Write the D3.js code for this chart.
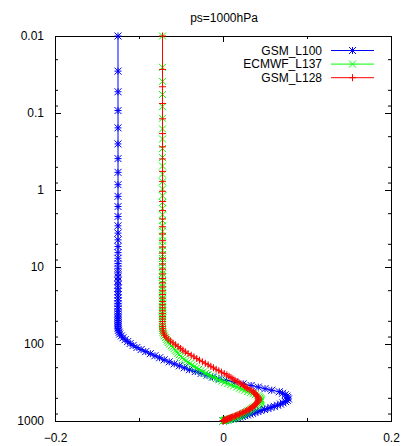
<!DOCTYPE html>
<html>
<head>
<meta charset="utf-8">
<script src="https://cdn.jsdelivr.net/npm/d3@7"></script>
<style>
  body { margin: 0; background: #fff; }
  svg text, .tick text { font-family: "Liberation Sans", Arial, sans-serif; font-size: 12px; fill: #000; }
</style>
</head>
<body>
<svg id="chart"></svg>
<script>
var title = "ps=1000hPa";
var seriesNames = ["GSM_L100", "ECMWF_L137", "GSM_L128"];
var xTicks = [-0.2, 0, 0.2];
var xMinorTicks = [-0.1, 0.1];
var yTicks = [0.01, 0.1, 1, 10, 100, 1000];
var yMinorTicks = [0.02, 0.05, 0.08, 0.2, 0.5, 0.8, 2, 5, 8, 20, 50, 80, 200, 500, 800];

// GSM_L100: pressure (hPa) and value
var gsmL100Pressure = [0.01, 0.0286, 0.053, 0.093, 0.156, 0.252, 0.391, 0.59, 0.853, 1.21, 1.64, 2.21, 2.92, 3.63,
  4.44, 5.42, 6.5, 7.7, 9.0, 10.4, 11.9, 13.5, 15.2, 17.0, 18.9, 20.9, 23.0, 25.2, 27.5, 29.9, 32.4, 35.0, 37.7,
  40.5, 43.4, 46.4, 49.5, 52.7, 56.0, 59.4, 62.9, 66.5,
  70.3, 74.3, 78.5, 83, 87.8, 93, 98.5, 104.5, 111, 118, 125.5, 133.5, 142, 151, 160.5, 170.5, 181, 192, 203.5,
  215.5, 228, 241, 254.5, 268.5, 283, 298, 313.5, 329.5, 346, 363, 380.5, 398.5, 417, 436, 455.5, 475.5, 496, 517,
  538.5, 560, 581.5, 603, 624.5, 646, 667.5, 689, 710.5, 732, 753, 774, 794.5, 814.5, 834, 853, 871.5, 889.5, 907,
  924, 940, 955.5, 970, 983.5, 1000];
var gsmL100Value = [-0.125, -0.125, -0.125, -0.125, -0.125, -0.125, -0.125, -0.125, -0.125, -0.125, -0.125,
  -0.125, -0.125, -0.125, -0.125, -0.125, -0.125, -0.125, -0.125, -0.125, -0.125, -0.125, -0.125, -0.125, -0.125,
  -0.125, -0.125, -0.125, -0.125, -0.125, -0.125, -0.125, -0.125, -0.125, -0.125, -0.125, -0.125, -0.125, -0.125,
  -0.125, -0.125, -0.1245,
  -0.1235, -0.123, -0.121, -0.119, -0.1165, -0.1135, -0.1105, -0.107, -0.1025, -0.0975, -0.092, -0.0865, -0.081,
  -0.0755, -0.070, -0.064, -0.058, -0.052, -0.046, -0.040, -0.033, -0.026, -0.019, -0.0125, -0.005, 0.004, 0.014,
  0.024, 0.0335, 0.042, 0.050, 0.058, 0.067, 0.071, 0.074, 0.076, 0.077, 0.078, 0.0765, 0.0745, 0.0715, 0.0685,
  0.065, 0.061, 0.057, 0.0535, 0.0495, 0.045, 0.0415, 0.038, 0.035, 0.032, 0.029, 0.026, 0.023, 0.020, 0.0175,
  0.0145, 0.0115, 0.0085, 0.0055, 0.003, 0];

// ECMWF_L137
var ecmwfL137Pressure = [0.01, 0.0255, 0.0388, 0.0575, 0.0829, 0.117, 0.161, 0.218, 0.29, 0.379, 0.489, 0.622,
  0.782, 0.972, 1.19, 1.45, 1.75, 2.1, 2.49, 2.93, 3.43, 3.98, 4.6, 5.29, 6.04, 6.87, 7.77, 8.75, 9.82, 11.0,
  12.2, 13.5, 15.0, 16.5, 18.1, 19.9, 21.7, 23.6, 25.7, 27.8, 30.1, 32.5, 35.0, 37.6, 40.4, 43.2, 46.2, 49.3,
  52.5, 55.8, 59.3, 62.8, 66.5, 70.3, 74.3, 78.3, 82.5, 86.8, 91.2, 95.7, 100.4,
  105, 110, 115, 120.5, 126, 132, 138, 144.5, 151, 158, 165, 172.5, 180, 188, 196, 204.5, 213, 222, 231, 240.5,
  250, 260, 270.5, 281, 292, 303, 314.5, 326, 338, 350, 362.5, 375, 388, 401, 414.5, 428, 442, 456, 470.5, 485,
  500, 515, 530.5, 546, 562, 578, 594, 610.5, 627, 643.5, 660, 676.5, 693, 709.5, 726, 742, 758, 774, 789.5, 805,
  820, 834.5, 848.5, 862, 875, 887.5, 899.5, 911, 922, 932.5, 942.5, 952, 961, 969.5, 977.5, 985, 992, 1000];
var ecmwfL137Value = [-0.072, -0.072, -0.072, -0.072, -0.072, -0.072, -0.072, -0.072, -0.072, -0.072, -0.072,
  -0.072, -0.072, -0.072, -0.072, -0.072, -0.072, -0.072, -0.072, -0.072, -0.072, -0.072, -0.072, -0.072, -0.072,
  -0.072, -0.072, -0.072, -0.072, -0.072, -0.072, -0.072, -0.072, -0.072, -0.072, -0.072, -0.072, -0.072, -0.072,
  -0.072, -0.072, -0.072, -0.072, -0.072, -0.072, -0.072, -0.072, -0.072, -0.072, -0.072, -0.072, -0.072,
  -0.0718, -0.0714, -0.0707, -0.0697, -0.0684, -0.0673, -0.0662, -0.0652, -0.0637,
  -0.0615, -0.0600, -0.0583, -0.0566, -0.0551, -0.0537, -0.0522, -0.0505, -0.0486, -0.0464, -0.0442, -0.0418,
  -0.0394, -0.0368, -0.0342, -0.0315, -0.0289, -0.0262, -0.0235, -0.0207, -0.0178, -0.0146, -0.0112, -0.0078,
  -0.0046, -0.0014, 0.0021, 0.0058, 0.0092, 0.0126, 0.0163, 0.0197, 0.0228, 0.0260, 0.0295, 0.0328, 0.0357,
  0.0385, 0.0412, 0.0428, 0.0440, 0.0448, 0.0453, 0.0452, 0.0448, 0.0443, 0.0435, 0.0423, 0.0407, 0.0388, 0.0374,
  0.0359, 0.0345, 0.0330, 0.0315, 0.0301, 0.0288, 0.0274, 0.0260, 0.0246, 0.0233, 0.0220, 0.0206, 0.0192, 0.0178,
  0.0163, 0.0148, 0.0133, 0.0119, 0.0103, 0.0087, 0.0071, 0.0056, 0.0042, 0.0030, 0.0019, 0.0009, 0];

// GSM_L128
var gsmL128Pressure = [0.01, 0.0272, 0.0456, 0.0752, 0.119, 0.185, 0.275, 0.395, 0.573, 0.773, 1.04, 1.41, 1.85,
  2.38, 3.0, 3.72, 4.55, 5.5, 6.58, 7.8, 9.15, 10.65, 12.3, 14.1, 16.05, 18.15, 20.4, 22.8, 25.35, 28.05, 30.9,
  33.9, 37.05, 40.35, 43.8, 47.4, 51.15, 55.05, 59.1, 63.3, 67.65, 72.15, 76.8, 81.6, 86.55, 91.65, 96.9, 102.3,
  108, 114, 120, 126.5, 133, 140, 147, 154.5, 162, 170, 178, 186.5, 195, 204, 213, 222.5, 232, 242, 252, 262.5,
  273, 284, 295, 306.5, 318, 330, 342, 354.5, 367, 380, 393, 406.5, 420, 434, 448, 462.5, 477, 492, 507, 522.5,
  538, 554, 570, 586, 602, 618.5, 635, 651.5, 668, 684.5, 701, 717.5, 734, 750, 766, 782, 797.5, 813, 828, 842.5,
  856.5, 870, 883, 895.5, 907.5, 919, 930, 940.5, 950.5, 960, 969, 977.5, 985.5, 993, 1000];
var gsmL128Value = [-0.072, -0.072, -0.072, -0.072, -0.072, -0.072, -0.072, -0.072, -0.072, -0.072, -0.072,
  -0.072, -0.072, -0.072, -0.072, -0.072, -0.072, -0.072, -0.072, -0.072, -0.072, -0.072, -0.072, -0.072, -0.072,
  -0.072, -0.072, -0.072, -0.072, -0.072, -0.072, -0.072, -0.072, -0.072, -0.072, -0.072, -0.072, -0.072, -0.072,
  -0.0718, -0.0714, -0.0707, -0.0697, -0.0678, -0.0652, -0.0625, -0.0596, -0.0565,
  -0.0535, -0.0505, -0.0478, -0.0448, -0.0416, -0.0378, -0.0346, -0.0313, -0.0280, -0.0245, -0.0210, -0.0177,
  -0.0145, -0.0113, -0.0082, -0.0050, -0.0018, 0.0015, 0.0045, 0.0072, 0.0095, 0.0118, 0.0143, 0.0168, 0.0190,
  0.0213, 0.0240, 0.0258, 0.0276, 0.0295, 0.0322, 0.0345, 0.0363, 0.0378, 0.0390, 0.0401, 0.0412, 0.0419, 0.0423,
  0.0424, 0.0421, 0.0416, 0.0410, 0.0402, 0.0392, 0.0381, 0.0370, 0.0358, 0.0345, 0.0331, 0.0316, 0.0300, 0.0283,
  0.0266, 0.0248, 0.0230, 0.0213, 0.0196, 0.0180, 0.0164, 0.0148, 0.0133, 0.0117, 0.0102, 0.0088, 0.0075, 0.0064,
  0.0055, 0.0045, 0.0035, 0.0025, 0.0017, 0.0010, 0.0005, 0];

var width = 412, height = 446;

var svg = d3.select("#chart")
  .attr("width", width)
  .attr("height", height);

var x = d3.scaleLinear().domain([-0.2, 0.2]).range([55, 391]);
var y = d3.scaleLog().domain([0.01, 1000]).range([36, 421]);

// ticks, pointing into the plot like gnuplot
function drawAxis(axis, tx, ty) {
  var g = svg.append("g")
    .attr("transform", "translate(" + tx + "," + ty + ")")
    .call(axis);
  g.select(".domain").remove();
  g.selectAll(".tick line").attr("stroke", "#000");
  return g;
}

drawAxis(d3.axisLeft(y).tickValues(yTicks).tickSize(-6).tickPadding(11)
  .tickFormat(d3.format("~g")), 55, 0);
drawAxis(d3.axisLeft(y).tickValues(yMinorTicks).tickSize(-3).tickFormat(""), 55, 0);
drawAxis(d3.axisRight(y).tickValues(yTicks).tickSize(-6).tickFormat(""), 391, 0);
drawAxis(d3.axisRight(y).tickValues(yMinorTicks).tickSize(-3).tickFormat(""), 391, 0);

drawAxis(d3.axisBottom(x).tickValues(xTicks).tickSize(-6).tickPadding(12)
  .tickFormat(d => d === 0 ? "0" : d3.format(".1f")(d)), 0, 421);
drawAxis(d3.axisBottom(x).tickValues(xMinorTicks).tickSize(-3).tickFormat(""), 0, 421);
drawAxis(d3.axisTop(x).tickValues(xTicks).tickSize(-6).tickFormat(""), 0, 36);
drawAxis(d3.axisTop(x).tickValues(xMinorTicks).tickSize(-3).tickFormat(""), 0, 36);

svg.append("rect")
  .attr("x", 55.5)
  .attr("y", 36.5)
  .attr("width", 336)
  .attr("height", 385)
  .attr("fill", "none")
  .attr("stroke", "#000");

svg.append("text")
  .attr("x", 224)
  .attr("y", 21.5)
  .attr("text-anchor", "middle")
  .text(title);

function markerPath(type, s) {
  var plus = "M" + (-s) + ",0H" + s + "M0," + (-s) + "V" + s;
  var cross = "M" + (-s) + "," + (-s) + "L" + s + "," + s + "M" + (-s) + "," + s + "L" + s + "," + (-s);
  if (type === "plus") return plus;
  if (type === "cross") return cross;
  return plus + cross;
}

var series = [
  { name: seriesNames[0], color: "#0000ff", marker: "star", rows: d3.zip(gsmL100Pressure, gsmL100Value) },
  { name: seriesNames[1], color: "#00ff00", marker: "cross", rows: d3.zip(ecmwfL137Pressure, ecmwfL137Value) },
  { name: seriesNames[2], color: "#ff0000", marker: "plus", rows: d3.zip(gsmL128Pressure, gsmL128Value) }
];

var line = d3.line()
  .x(d => x(d[1]))
  .y(d => y(d[0]));

var legendX = 322, legendY = 50.5, legendStep = 13.6;

series.forEach((s, i) => {
  var g = svg.append("g");

  g.append("path")
    .datum(s.rows)
    .attr("d", line)
    .attr("fill", "none")
    .attr("stroke", s.color)
    .attr("stroke-width", 1);

  g.selectAll(".pt")
    .data(s.rows)
    .enter()
    .append("path")
      .attr("class", "pt")
      .attr("transform", d => "translate(" + x(d[1]) + "," + y(d[0]) + ")")
      .attr("d", markerPath(s.marker, 3.5))
      .attr("fill", "none")
      .attr("stroke", s.color)
      .attr("stroke-width", 1);

  // key entry
  var ly = legendY + i * legendStep;
  g.append("text")
    .attr("x", legendX)
    .attr("y", ly + 4.3)
    .attr("text-anchor", "end")
    .text(s.name);
  g.append("line")
    .attr("x1", 331).attr("x2", 374)
    .attr("y1", ly).attr("y2", ly)
    .attr("stroke", s.color);
  g.append("path")
    .attr("transform", "translate(352.5," + ly + ")")
    .attr("d", markerPath(s.marker, 3.5))
    .attr("fill", "none")
    .attr("stroke", s.color);
});
</script>
</body>
</html>
